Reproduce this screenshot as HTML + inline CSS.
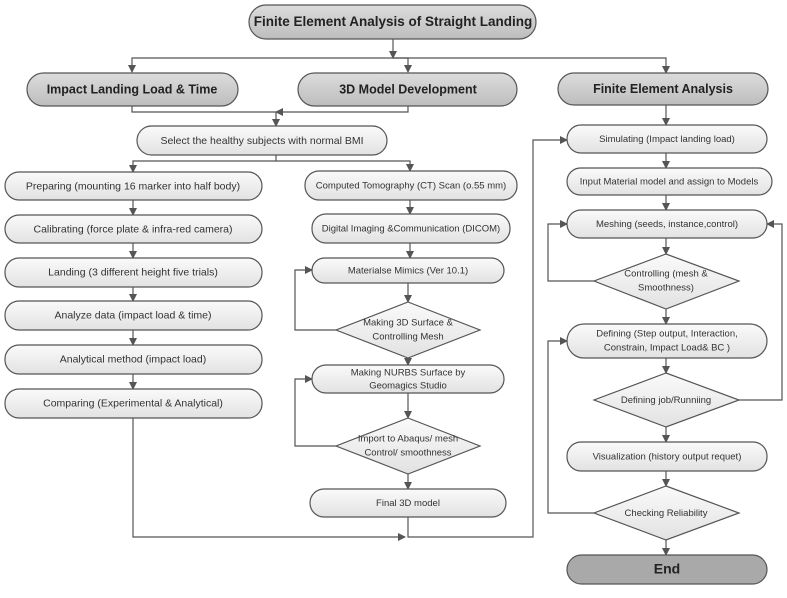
<!DOCTYPE html>
<html><head><meta charset="utf-8"><style>
html,body{margin:0;padding:0;background:#fff}
svg{display:block}
text{font-family:"Liberation Sans",sans-serif;fill:#333;text-anchor:middle;dominant-baseline:middle}
.b{fill:url(#g);stroke:#555;stroke-width:1.2}
.h{fill:url(#gh);stroke:#555;stroke-width:1.2}
.l{fill:none;stroke:#555;stroke-width:1.2}
.t{font-size:10.5px}
.s{font-size:9.5px}
.hb{font-size:12.5px;font-weight:bold;fill:#222}
</style></head><body>
<svg width="787" height="598" viewBox="0 0 787 598" xmlns="http://www.w3.org/2000/svg">
<defs>
<linearGradient id="g" x1="0" y1="0" x2="0" y2="1"><stop offset="0" stop-color="#fafafa"/><stop offset="1" stop-color="#e2e2e2"/></linearGradient>
<linearGradient id="gh" x1="0" y1="0" x2="0" y2="1"><stop offset="0" stop-color="#dcdcdc"/><stop offset="1" stop-color="#bdbdbd"/></linearGradient>
<marker id="a" markerWidth="8" markerHeight="8" refX="7" refY="4" orient="auto" markerUnits="userSpaceOnUse"><path d="M0,0 L8,4 L0,8 z" fill="#555"/></marker>
</defs>

<!-- connectors -->
<g class="l" marker-end="url(#a)">
<path d="M393,39 V58"/>
<path d="M393,58 H132 V72"/>
<path d="M393,58 H408 V72"/>
<path d="M393,58 H666 V73"/>
<path d="M132,106 V112 H276 V126"/>
<path d="M408,106 V112 H276"/>
<path d="M276,155 V161 H133 V172"/>
<path d="M276,161 H410 V171"/>
<path d="M133,200 V215"/><path d="M133,243 V258"/><path d="M133,287 V301"/><path d="M133,330 V345"/><path d="M133,374 V389"/>
<path d="M410,200 V214"/><path d="M410,243 V258"/><path d="M408,283 V302"/><path d="M408,358 V365"/><path d="M408,393 V418"/><path d="M408,474 V489"/>
<path d="M336,330 H295 V270 H312"/>
<path d="M336,446 H295 V379 H312"/>
<path d="M133,418 V537 H405"/>
<path d="M408,517 V537 H533 V140 H567"/>
<path d="M666,105 V125"/><path d="M666,153 V168"/><path d="M666,195 V210"/><path d="M666,238 V254"/><path d="M666,309 V324"/><path d="M666,358 V373"/><path d="M666,427 V442"/><path d="M666,471 V486"/><path d="M666,540 V555"/>
<path d="M594,281 H548 V224 H567"/>
<path d="M739,400 H782 V224 H767"/>
<path d="M594,513 H548 V341 H567"/>
</g>

<!-- header nodes -->
<rect class="h" x="249" y="5" width="287" height="34" rx="17"/>
<text class="hb" x="393" y="22.5" style="font-size:13.5px">Finite Element Analysis of Straight Landing</text>
<rect class="h" x="27" y="73" width="211" height="33" rx="16.5"/>
<text class="hb" x="132" y="90">Impact Landing Load &amp; Time</text>
<rect class="h" x="298" y="73" width="219" height="33" rx="16.5"/>
<text class="hb" x="408" y="90">3D Model Development</text>
<rect class="h" x="558" y="73" width="210" height="32" rx="16"/>
<text class="hb" x="663" y="89.5">Finite Element Analysis</text>

<rect class="b" x="137" y="126" width="250" height="29" rx="14.5"/>
<text class="t" x="262" y="141">Select the healthy subjects with normal BMI</text>

<!-- left column -->
<rect class="b" x="5" y="172" width="257" height="28" rx="14"/><text class="t" x="133" y="186.5">Preparing (mounting 16 marker into half body)</text>
<rect class="b" x="5" y="215" width="257" height="28" rx="14"/><text class="t" x="133" y="229.5">Calibrating (force plate &amp; infra-red camera)</text>
<rect class="b" x="5" y="258" width="257" height="29" rx="14"/><text class="t" x="133" y="272.5">Landing  (3 different height five trials)</text>
<rect class="b" x="5" y="301" width="257" height="29" rx="14"/><text class="t" x="133" y="315.5">Analyze data (impact load &amp; time)</text>
<rect class="b" x="5" y="345" width="257" height="29" rx="14"/><text class="t" x="133" y="359.5">Analytical method (impact load)</text>
<rect class="b" x="5" y="389" width="257" height="29" rx="14"/><text class="t" x="133" y="403.5">Comparing (Experimental &amp; Analytical)</text>

<!-- middle column -->
<rect class="b" x="305" y="171" width="212" height="29" rx="14"/><text class="s" x="411" y="186">Computed Tomography (CT) Scan (o.55 mm)</text>
<rect class="b" x="312" y="214" width="198" height="29" rx="14"/><text class="s" x="411" y="229">Digital Imaging &amp;Communication (DICOM)</text>
<rect class="b" x="312" y="258" width="192" height="25" rx="12.5"/><text class="s" x="408" y="271">Materialse Mimics (Ver 10.1)</text>
<polygon class="b" points="408,302 480,330 408,358 336,330"/>
<text class="s" x="408" y="323">Making 3D Surface &amp;</text><text class="s" x="408" y="337">Controlling  Mesh</text>
<rect class="b" x="312" y="365" width="192" height="28" rx="14"/>
<text class="s" x="408" y="373">Making NURBS Surface by</text><text class="s" x="408" y="386">Geomagics Studio</text>
<polygon class="b" points="408,418 480,446 408,474 336,446"/>
<text class="s" x="408" y="439">Import to Abaqus/ mesh</text><text class="s" x="408" y="453">Control/ smoothness</text>
<rect class="b" x="310" y="489" width="196" height="28" rx="14"/><text class="s" x="408" y="503.5">Final 3D model</text>

<!-- right column -->
<rect class="b" x="567" y="125" width="200" height="28" rx="14"/><text class="s" x="667" y="139.5">Simulating (Impact landing load)</text>
<rect class="b" x="567" y="168" width="205" height="27" rx="13.5"/><text class="s" x="669" y="182">Input Material model and assign to Models</text>
<rect class="b" x="567" y="210" width="200" height="28" rx="14"/><text class="s" x="667" y="224.5">Meshing (seeds, instance,control)</text>
<polygon class="b" points="666,254 739,281 666,309 594,281"/>
<text class="s" x="666" y="274">Controlling (mesh &amp;</text><text class="s" x="666" y="288">Smoothness)</text>
<rect class="b" x="567" y="324" width="200" height="34" rx="17"/>
<text class="s" x="667" y="334">Defining (Step output, Interaction,</text><text class="s" x="667" y="348">Constrain, Impact Load&amp; BC )</text>
<polygon class="b" points="666,373 739,400 666,427 594,400"/>
<text class="s" x="666" y="400.5">Defining job/Runniing</text>
<rect class="b" x="567" y="442" width="200" height="29" rx="14"/><text class="s" x="667" y="457">Visualization (history output requet)</text>
<polygon class="b" points="666,486 739,513 666,540 594,513"/>
<text class="s" x="666" y="513.5">Checking Reliability</text>
<rect class="h" x="567" y="555" width="200" height="29" rx="14.5" style="fill:#a9a9a9"/>
<text class="hb" x="667" y="570" style="font-size:14px">End</text>
</svg>
</body></html>
